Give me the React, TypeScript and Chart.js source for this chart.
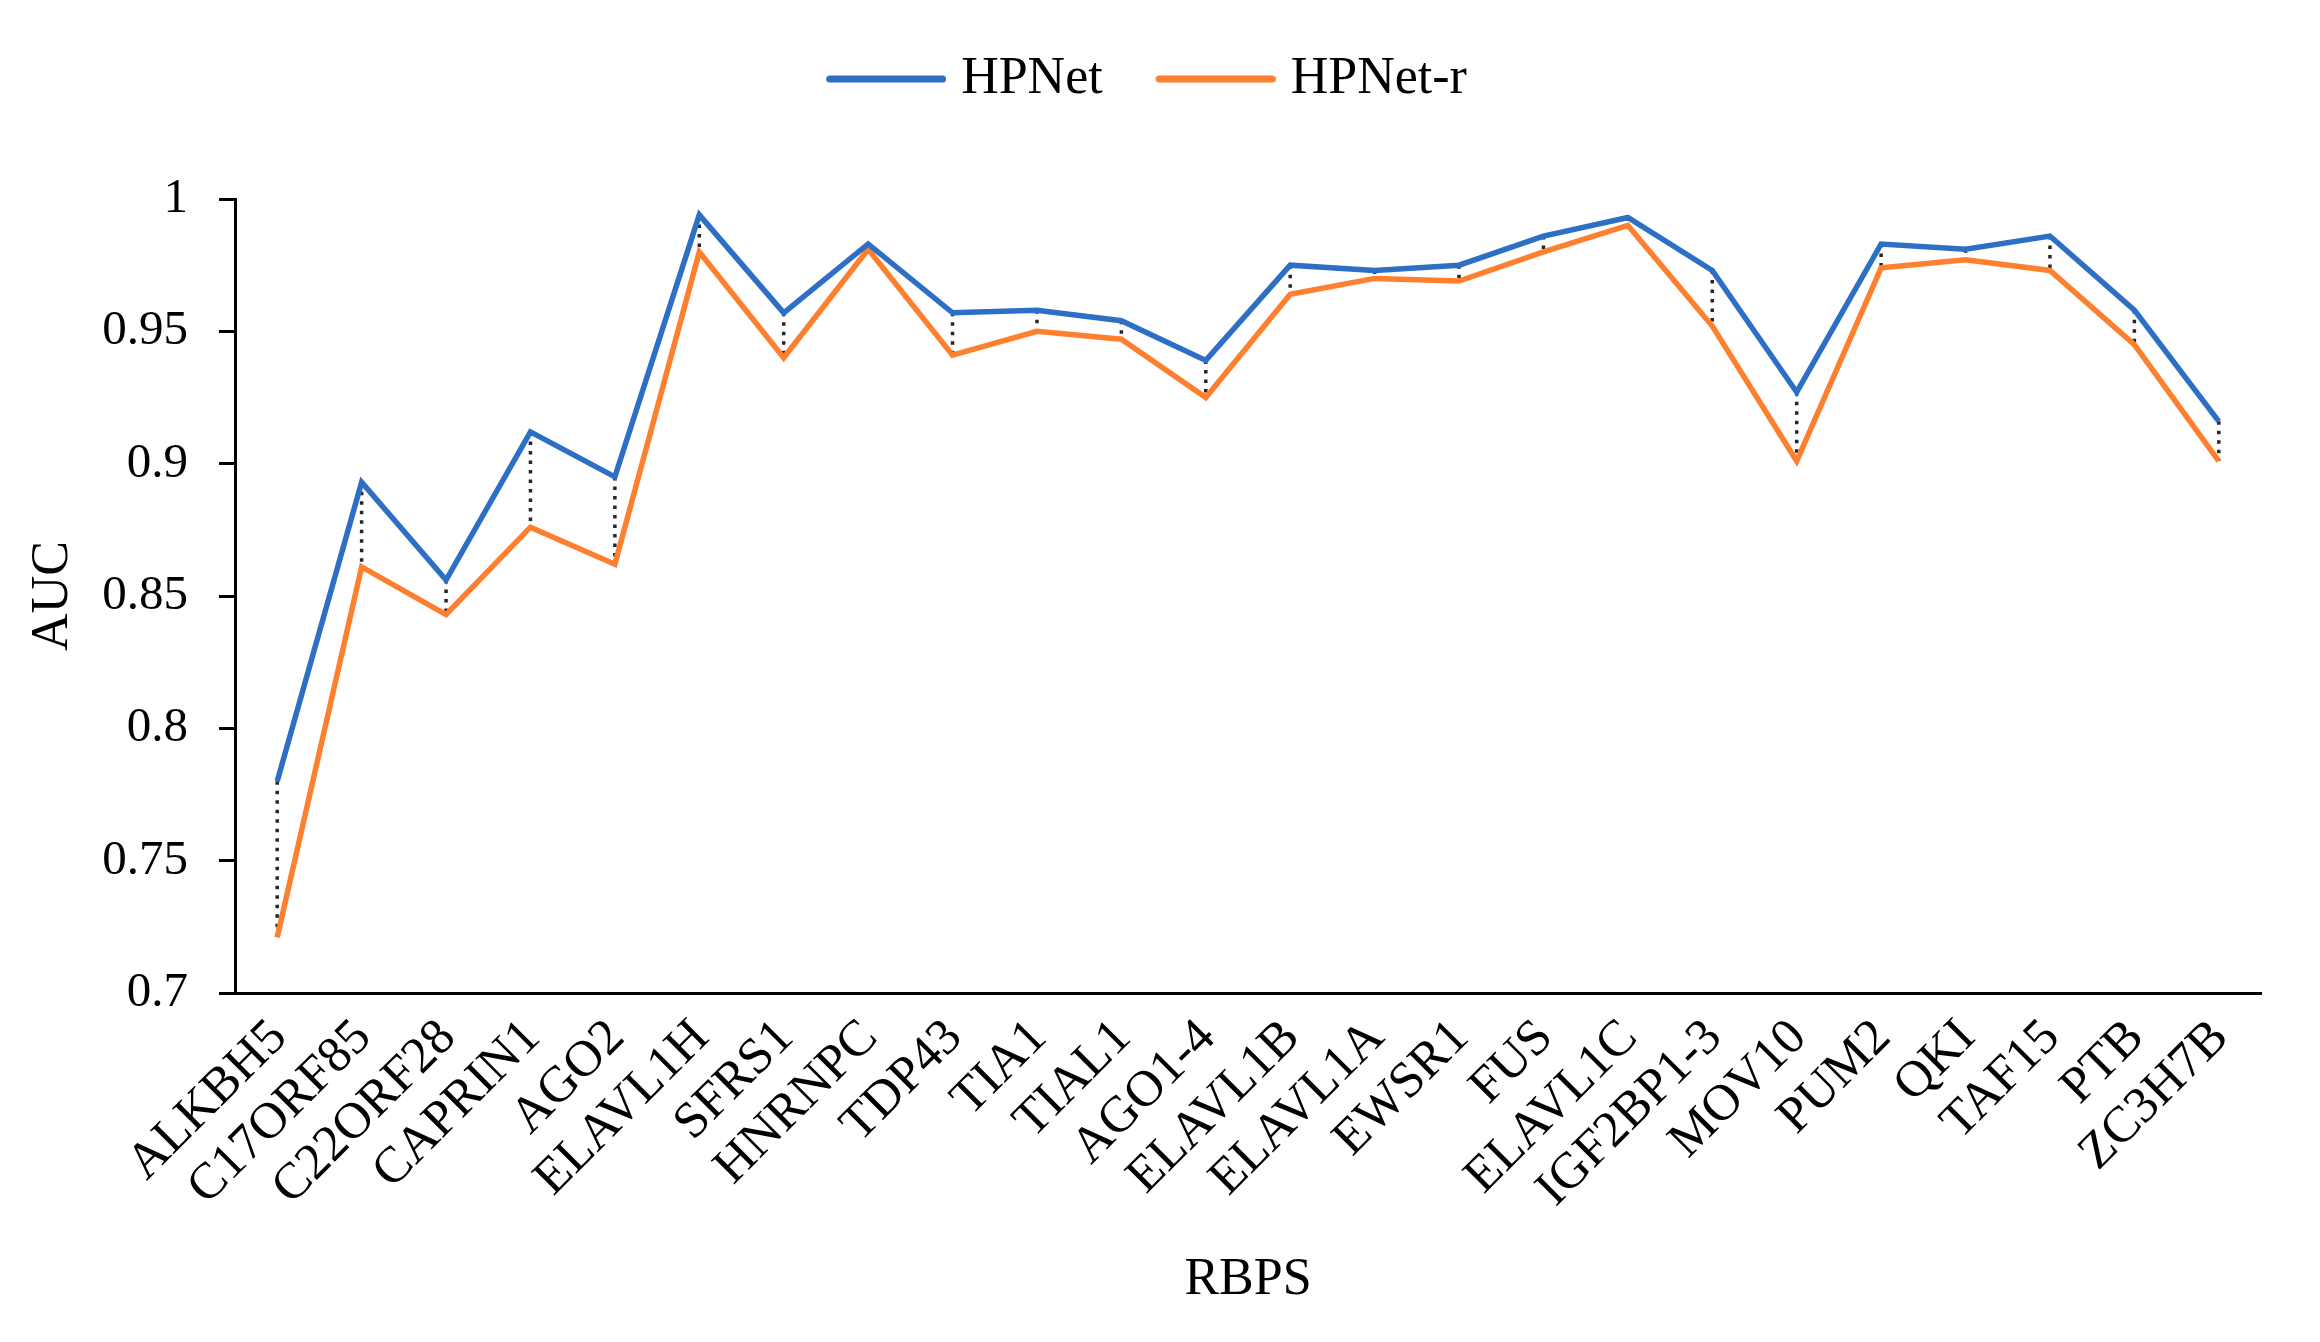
import React, { useEffect, useRef } from 'react';
import { Chart, registerables } from 'chart.js';

Chart.register(...registerables);

const categories = [
  'ALKBH5', 'C17ORF85', 'C22ORF28', 'CAPRIN1', 'AGO2', 'ELAVL1H', 'SFRS1', 'HNRNPC',
  'TDP43', 'TIA1', 'TIAL1', 'AGO1-4', 'ELAVL1B', 'ELAVL1A', 'EWSR1', 'FUS',
  'ELAVL1C', 'IGF2BP1-3', 'MOV10', 'PUM2', 'QKI', 'TAF15', 'PTB', 'ZC3H7B',
];

const hpnet = [
  0.780, 0.893, 0.856, 0.912, 0.895, 0.994, 0.957, 0.983,
  0.957, 0.958, 0.954, 0.939, 0.975, 0.973, 0.975, 0.986,
  0.993, 0.973, 0.927, 0.983, 0.981, 0.986, 0.958, 0.916,
];

const hpnetR = [
  0.721, 0.861, 0.843, 0.876, 0.862, 0.980, 0.940, 0.981,
  0.941, 0.950, 0.947, 0.925, 0.964, 0.970, 0.969, 0.980,
  0.990, 0.952, 0.901, 0.974, 0.977, 0.973, 0.945, 0.901,
];

const yTicks = [0.7, 0.75, 0.8, 0.85, 0.9, 0.95, 1];

const seriesNames = ['HPNet', 'HPNet-r'];
const BLUE = '#2C6FC5';
const ORANGE = '#FE7F2D';
const FONT = "'Liberation Serif', 'Times New Roman', serif";

function makeLegendLine(color: string): HTMLCanvasElement {
  const c = document.createElement('canvas');
  c.width = 131;
  c.height = 8;
  const g = c.getContext('2d')!;
  g.strokeStyle = color;
  g.lineWidth = 7;
  g.lineCap = 'round';
  g.beginPath();
  g.moveTo(11 + 3.5, 4);
  g.lineTo(131 - 3.5, 4);
  g.stroke();
  return c;
}

const dropLines = {
  id: 'dropLines',
  beforeDatasetsDraw(chart: any) {
    const a = chart.getDatasetMeta(0).data;
    const b = chart.getDatasetMeta(1).data;
    const ctx = chart.ctx;
    ctx.save();
    ctx.setLineDash([3.5, 6]);
    ctx.lineWidth = 3.5;
    ctx.strokeStyle = '#262626';
    a.forEach((p: any, i: number) => {
      const q = b[i];
      if (!q) return;
      ctx.beginPath();
      ctx.moveTo(p.x, p.y);
      ctx.lineTo(q.x, q.y);
      ctx.stroke();
    });
    ctx.restore();
  },
};

export default function App() {
  const ref = useRef<HTMLCanvasElement | null>(null);

  useEffect(() => {
    if (!ref.current) return;
    Chart.defaults.font.family = FONT;
    const legendImgs = [makeLegendLine(BLUE), makeLegendLine(ORANGE)];
    const chart = new Chart(ref.current, {
      type: 'line',
      data: {
        labels: categories,
        datasets: [
          {
            label: seriesNames[0],
            data: hpnet,
            borderColor: BLUE,
            backgroundColor: BLUE,
            borderWidth: 5.5,
            pointRadius: 0,
            tension: 0,
            fill: false,
          },
          {
            label: seriesNames[1],
            data: hpnetR,
            borderColor: ORANGE,
            backgroundColor: ORANGE,
            borderWidth: 5.5,
            pointRadius: 0,
            tension: 0,
            fill: false,
          },
        ],
      },
      options: {
        animation: false,
        responsive: false,
        devicePixelRatio: 1,
        layout: { padding: { top: 0, left: 32, right: 59, bottom: 0 } },
        plugins: {
          legend: {
            position: 'top',
            labels: {
              font: { size: 52, family: FONT },
              color: '#000',
              padding: 53,
              usePointStyle: true,
              pointStyleWidth: 109,
              generateLabels: (c: any) => {
                const items = (Chart.defaults.plugins.legend.labels as any).generateLabels(c);
                return items.map((it: any, i: number) => ({ ...it, pointStyle: legendImgs[i], fontColor: '#000' }));
              },
            },
          },
          title: {
            display: true,
            text: '',
            weight: 500,
            padding: 0,
            font: { size: 84, lineHeight: 1 },
          } as any,
          tooltip: { enabled: false },
        },
        scales: {
          x: {
            type: 'category',
            offset: true,
            grid: { display: false, drawTicks: false },
            border: { display: true, color: '#000', width: 3 },
            ticks: {
              autoSkip: false,
              minRotation: 45,
              maxRotation: 45,
              padding: 15,
              labelOffset: 2,
              color: '#000',
              font: { size: 51, family: FONT },
            },
            title: {
              display: true,
              text: 'RBPS',
              color: '#000',
              font: { size: 52, family: FONT },
              padding: { top: 0, bottom: 30 },
            },
            afterFit: (s: any) => {
              s.height = 349;
            },
          },
          y: {
            min: 0.7,
            max: 1,
            afterBuildTicks: (s: any) => {
              s.ticks = yTicks.map((v) => ({ value: v }));
            },
            grid: {
              display: true,
              drawOnChartArea: false,
              drawTicks: true,
              tickLength: 16,
              color: '#000',
              lineWidth: 3,
            },
            border: { display: true, color: '#000', width: 3 },
            ticks: {
              padding: 31,
              color: '#000',
              font: { size: 49, family: FONT },
              callback: (v: any) => String(v),
            },
            title: {
              display: true,
              text: 'AUC',
              color: '#000',
              font: { size: 52, family: FONT },
              padding: { top: -10, bottom: 0 },
            },
            afterFit: (s: any) => {
              s.width = 203;
            },
          },
        },
      } as any,
      plugins: [dropLines],
    });
    return () => chart.destroy();
  }, []);

  return (
    <div style={{ position: 'absolute', left: 0, top: 0, width: 2320, height: 1342, background: '#fff' }}>
      <canvas ref={ref} width={2320} height={1342} style={{ display: 'block', width: 2320, height: 1342 }} />
    </div>
  );
}
